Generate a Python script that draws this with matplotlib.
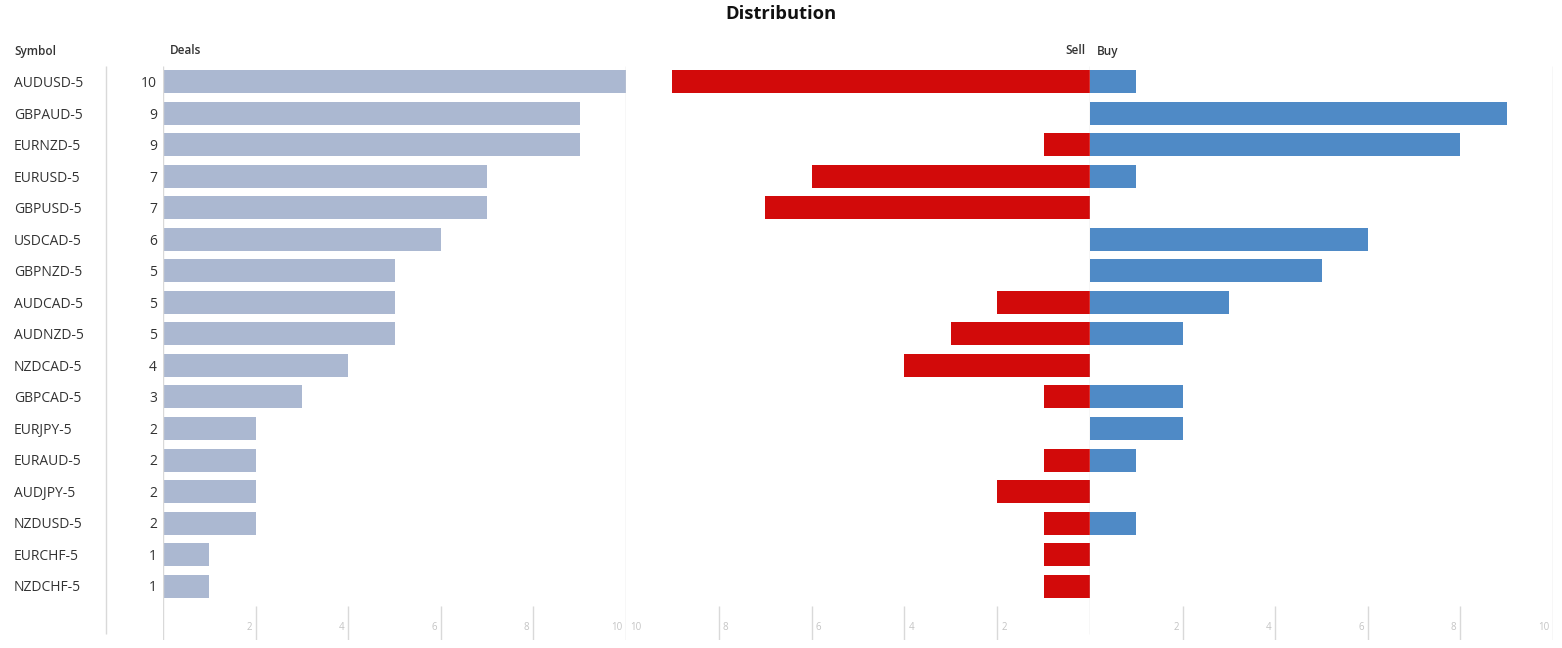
import matplotlib
matplotlib.use("Agg")
import matplotlib.pyplot as plt

plt.rcParams['font.family'] = ['Open Sans', 'DejaVu Sans']

symbols = ["AUDUSD-5", "GBPAUD-5", "EURNZD-5", "EURUSD-5", "GBPUSD-5", "USDCAD-5",
           "GBPNZD-5", "AUDCAD-5", "AUDNZD-5", "NZDCAD-5", "GBPCAD-5", "EURJPY-5",
           "EURAUD-5", "AUDJPY-5", "NZDUSD-5", "EURCHF-5", "NZDCHF-5"]
deals = [10, 9, 9, 7, 7, 6, 5, 5, 5, 4, 3, 2, 2, 2, 2, 1, 1]
sell = [9, 0, 1, 6, 7, 0, 0, 2, 3, 4, 1, 0, 1, 2, 1, 1, 1]
buy = [1, 9, 8, 1, 0, 6, 5, 3, 2, 0, 2, 2, 1, 0, 1, 0, 0]
ticks = [2, 4, 6, 8, 10]

W, H = 1562, 648
fig = plt.figure(figsize=(W / 100, H / 100), dpi=100)

GRID = "#d9d9d9"
TICKC = "#c4c4c4"
TXT = "#333333"
Y0, Y1 = 66, 640
ylim = (17.71, -0.5)
rows = list(range(len(symbols)))


def make_ax(x0, x1):
    ax = fig.add_axes([x0 / W, 1 - Y1 / H, (x1 - x0) / W, (Y1 - Y0) / H])
    ax.set_ylim(*ylim)
    ax.axis("off")
    return ax


# symbol column
lab = make_ax(0, 163)
lab.set_xlim(0, 163)
for i, s in enumerate(symbols):
    lab.text(14, i + 0.06, s, ha="left", va="center", fontsize=10, color=TXT)
    lab.text(157, i + 0.06, str(deals[i]), ha="right", va="center", fontsize=10, color=TXT)
lab.vlines(106, -0.5, 17.52, color=GRID, lw=1)

# deals panel
ax1 = make_ax(163, 626)
ax1.set_xlim(0, 10)
ax1.barh(rows, deals, height=0.73, color="#abb8d1")
ax1.vlines([0, 10], -0.5, 17.71, color=GRID, lw=1, zorder=3)
ax1.vlines(ticks[:-1], 16.63, 17.71, color=GRID, lw=1)
for t in ticks:
    ax1.annotate(str(t), (t, 17.3), xytext=(-4, 0), textcoords="offset pixels",
                 ha="right", va="center", fontsize=7, color=TICKC)

# sell panel
ax2 = make_ax(626, 1090)
ax2.set_xlim(10, 0)
ax2.barh(rows, sell, height=0.73, color="#d20a0a")
ax2.vlines(0, -0.5, 17.52, color=GRID, lw=1, zorder=3)
ax2.vlines(ticks[:-1], 16.63, 17.71, color=GRID, lw=1)
for t in ticks:
    ax2.annotate(str(t), (t, 17.3), xytext=(4, 0), textcoords="offset pixels",
                 ha="left", va="center", fontsize=7, color=TICKC)

# buy panel
ax3 = make_ax(1090, 1553)
ax3.set_xlim(0, 10)
ax3.barh(rows, buy, height=0.73, color="#4f8ac6")
ax3.vlines(10, -0.5, 17.71, color=GRID, lw=1)
ax3.vlines(ticks[:-1], 16.63, 17.71, color=GRID, lw=1)
for t in ticks:
    ax3.annotate(str(t), (t, 17.3), xytext=(-4, 0), textcoords="offset pixels",
                 ha="right", va="center", fontsize=7, color=TICKC)

# headers
def ftext(x, y, s, **kw):
    fig.text(x / W, 1 - y / H, s, **kw)

ftext(781, 14, "Distribution", ha="center", va="center", fontsize=13.2,
      fontweight="bold", color="#111111")
hdr = dict(va="center", fontsize=8.5, fontweight="semibold", color=TXT)
ftext(14, 51, "Symbol", ha="left", **hdr)
ftext(170, 51, "Deals", ha="left", **hdr)
ftext(1085, 51, "Sell", ha="right", **hdr)
ftext(1097, 51, "Buy", ha="left", **hdr)

fig.savefig("out.png", dpi=100)
